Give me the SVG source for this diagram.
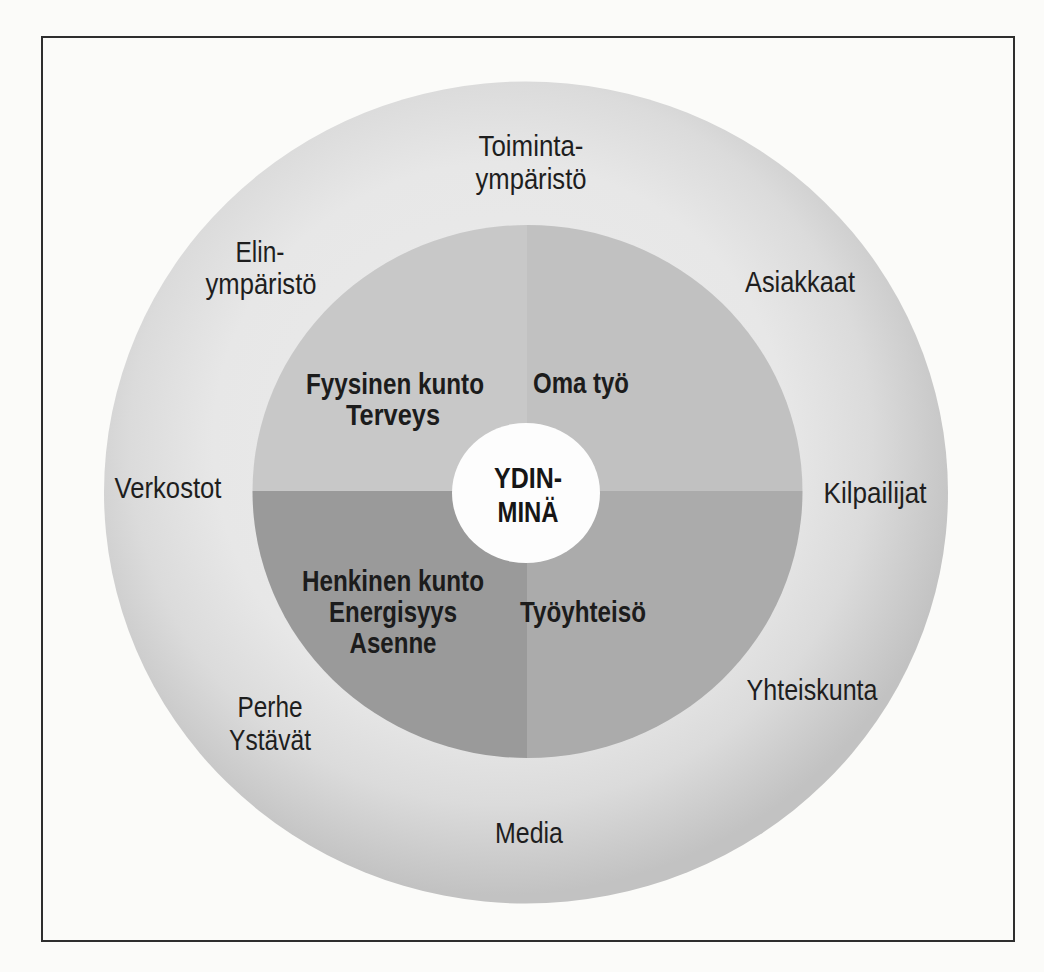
<svg xmlns="http://www.w3.org/2000/svg" width="1044" height="972" viewBox="0 0 1044 972">
  <style>
    .outer { font-family: "Liberation Sans", Arial, sans-serif; font-size: 29px; fill: #1e1e1e; text-anchor: middle; }
    .inner { font-family: "Liberation Sans", Arial, sans-serif; font-size: 30px; font-weight: bold; fill: #1c1c1c; text-anchor: middle; }
    .core { font-family: "Liberation Sans", Arial, sans-serif; font-size: 29px; font-weight: bold; fill: #161616; text-anchor: middle; }
  </style>
  <defs>
    <radialGradient id="ringGrad" cx="0.47" cy="0.44" r="0.55" gradientUnits="objectBoundingBox">
      <stop offset="0" stop-color="#ececec"/>
      <stop offset="0.62" stop-color="#e7e7e7"/>
      <stop offset="0.8" stop-color="#dbdbdb"/>
      <stop offset="1" stop-color="#c2c2c2"/>
    </radialGradient>
    <clipPath id="innerClip">
      <ellipse cx="527.5" cy="491.5" rx="275" ry="266.5"/>
    </clipPath>
  </defs>

  <rect x="0" y="0" width="1044" height="972" fill="#fbfbf9"/>
  <rect id="frame" x="42" y="37" width="972" height="904" fill="none" stroke="#2e2e2e" stroke-width="2"/>

  <g id="outer-ring">
    <ellipse cx="526" cy="492.5" rx="422" ry="411" fill="url(#ringGrad)"/>
  </g>

  <g id="inner-circle" clip-path="url(#innerClip)">
    <rect id="q-top-left" x="250" y="220" width="277" height="271" fill="#c8c8c8"/>
    <rect id="q-top-right" x="527" y="220" width="280" height="271" fill="#c1c1c1"/>
    <rect id="q-bottom-left" x="250" y="491" width="277" height="270" fill="#9a9a9a"/>
    <rect id="q-bottom-right" x="527" y="491" width="280" height="270" fill="#ababab"/>
  </g>

  <g id="core">
    <ellipse cx="526" cy="493" rx="74" ry="70" fill="#fdfdfd"/>
    <text class="core" x="528" y="488" textLength="68" lengthAdjust="spacingAndGlyphs">YDIN-</text>
    <text class="core" x="528" y="522" textLength="61" lengthAdjust="spacingAndGlyphs">MINÄ</text>
  </g>

  <g id="node-fyysinen">
    <text class="inner" x="395" y="394" textLength="178" lengthAdjust="spacingAndGlyphs">Fyysinen kunto</text>
    <text class="inner" x="393" y="425" textLength="94" lengthAdjust="spacingAndGlyphs">Terveys</text>
  </g>
  <g id="node-omatyo">
    <text class="inner" x="581" y="393" textLength="96" lengthAdjust="spacingAndGlyphs">Oma työ</text>
  </g>
  <g id="node-henkinen">
    <text class="inner" x="393" y="591" textLength="182" lengthAdjust="spacingAndGlyphs">Henkinen kunto</text>
    <text class="inner" x="393" y="622" textLength="128" lengthAdjust="spacingAndGlyphs">Energisyys</text>
    <text class="inner" x="393" y="653" textLength="87" lengthAdjust="spacingAndGlyphs">Asenne</text>
  </g>
  <g id="node-tyoyhteiso">
    <text class="inner" x="583" y="622" textLength="126" lengthAdjust="spacingAndGlyphs">Työyhteisö</text>
  </g>

  <g id="node-toimintaymparisto">
    <text class="outer" x="531" y="156" textLength="105" lengthAdjust="spacingAndGlyphs">Toiminta-</text>
    <text class="outer" x="531" y="189" textLength="111" lengthAdjust="spacingAndGlyphs">ympäristö</text>
  </g>
  <g id="node-elinymparisto">
    <text class="outer" x="260" y="262" textLength="49" lengthAdjust="spacingAndGlyphs">Elin-</text>
    <text class="outer" x="261" y="294" textLength="111" lengthAdjust="spacingAndGlyphs">ympäristö</text>
  </g>
  <g id="node-asiakkaat">
    <text class="outer" x="800" y="292" textLength="110" lengthAdjust="spacingAndGlyphs">Asiakkaat</text>
  </g>
  <g id="node-verkostot">
    <text class="outer" x="168" y="498" textLength="107" lengthAdjust="spacingAndGlyphs">Verkostot</text>
  </g>
  <g id="node-kilpailijat">
    <text class="outer" x="875" y="503" textLength="103" lengthAdjust="spacingAndGlyphs">Kilpailijat</text>
  </g>
  <g id="node-yhteiskunta">
    <text class="outer" x="812" y="700" textLength="131" lengthAdjust="spacingAndGlyphs">Yhteiskunta</text>
  </g>
  <g id="node-perhe">
    <text class="outer" x="270" y="717" textLength="65" lengthAdjust="spacingAndGlyphs">Perhe</text>
    <text class="outer" x="270" y="750" textLength="82" lengthAdjust="spacingAndGlyphs">Ystävät</text>
  </g>
  <g id="node-media">
    <text class="outer" x="529" y="843" textLength="68" lengthAdjust="spacingAndGlyphs">Media</text>
  </g>

  <g id="connectors"/>
</svg>
